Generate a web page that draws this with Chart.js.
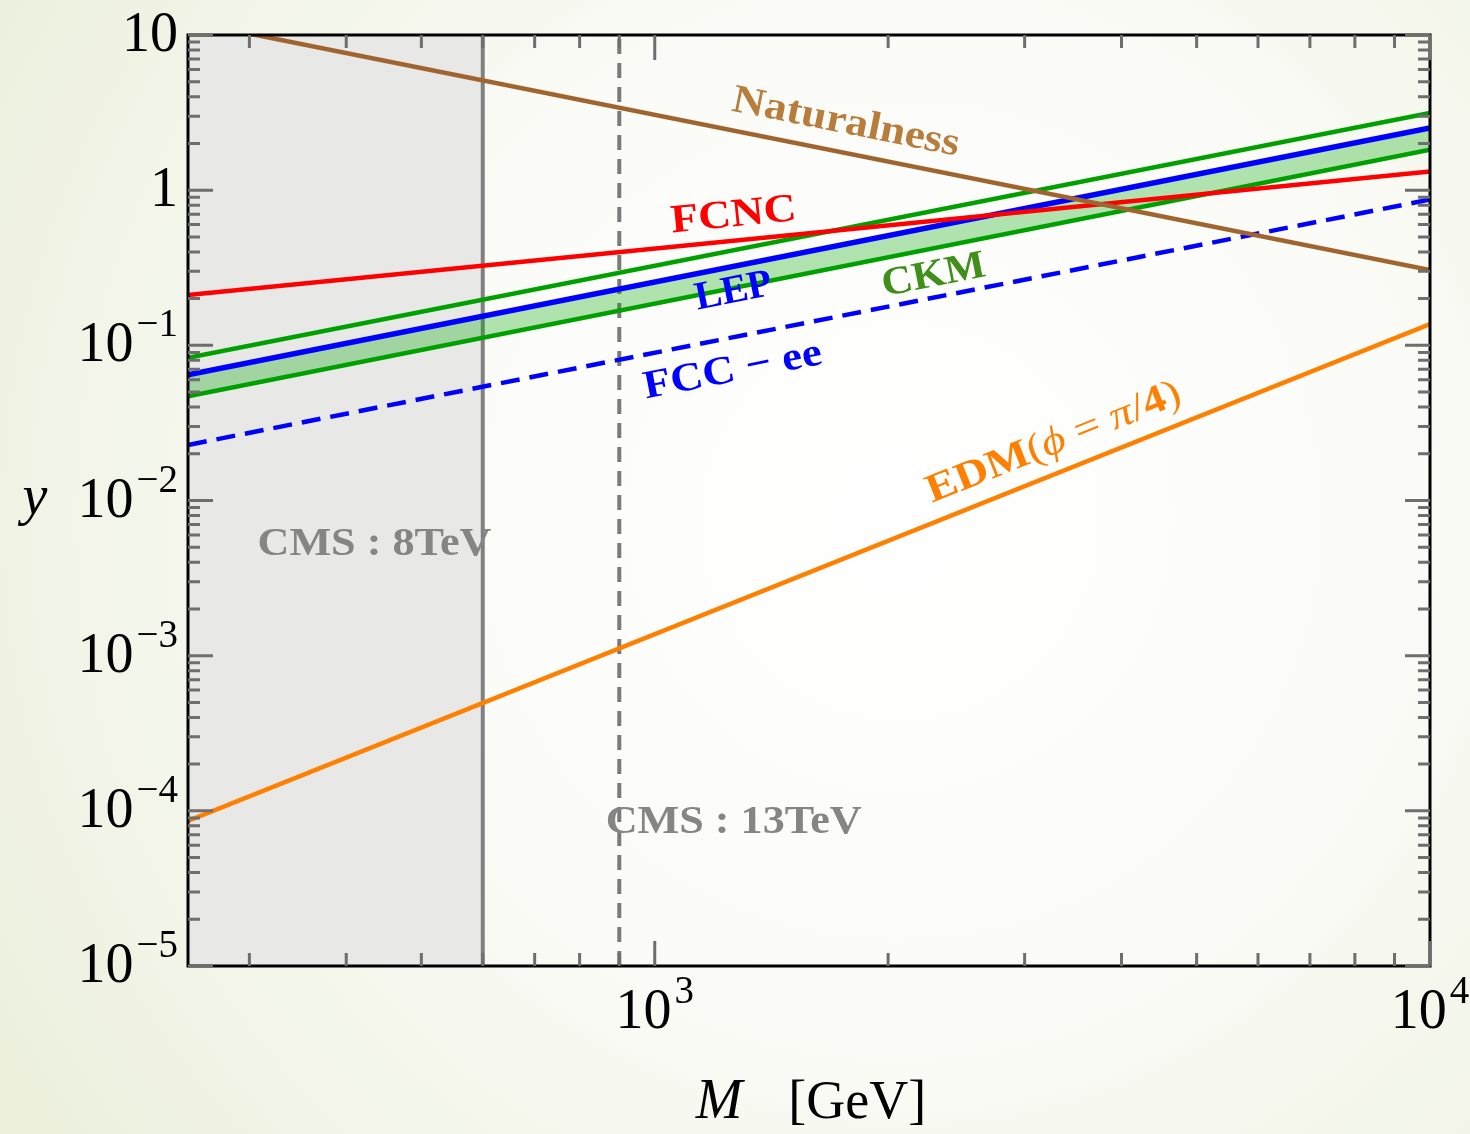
<!DOCTYPE html>
<html>
<head>
<meta charset="utf-8">
<script src="https://cdn.jsdelivr.net/npm/chart.js@4.4.1/dist/chart.umd.min.js"></script>
<style>
  html, body { margin: 0; padding: 0; background: #fbfcf7; }
  canvas { display: block; }
</style>
</head>
<body>
<canvas id="boundsChart" width="1470" height="1134"></canvas>
<script>
// each bound is a power law in M, so two end points give the straight log-log line
const massGeV = [250, 10000];
const naturalness = [12.24, 0.306];
const fcnc = [0.211, 1.32];
const lep = [0.0645, 2.52];
const ckmUpper = [0.083, 3.14];
const ckmLower = [0.047, 1.82];
const fccEE = [0.0228, 0.87];
const edm = [8.6e-5, 0.137];

// CMS lower limits on M (GeV)
const cms8Limit = 600;
const cms13Limit = 900;

const yRange = [1e-5, 10];
const yDecades = [10, 1, 0.1, 0.01, 1e-3, 1e-4, 1e-5];
const yTickLabels = [['10', ''], ['1', ''], ['10', '\u22121'], ['10', '\u22122'], ['10', '\u22123'], ['10', '\u22124'], ['10', '\u22125']];
const xDecades = [1000, 10000];
const xTickLabels = [['10', '3'], ['10', '4']];

const SERIF = '"Liberation Serif", "DejaVu Serif", serif';

const pts = ys => massGeV.map((m, i) => ({ x: m, y: ys[i] }));

function line(label, data, color, width, extra) {
  return Object.assign({
    label, data, borderColor: color, borderWidth: width,
    pointRadius: 0, tension: 0, fill: false, clip: 0
  }, extra || {});
}

const datasets = [
  line('Naturalness', pts(naturalness), '#a0642f', 4.5),
  line('FCNC', pts(fcnc), '#ff0000', 4.5),
  line('LEP', pts(lep), '#0000ff', 5.5),
  line('CKM upper', pts(ckmUpper), '#00a000', 4.5),
  line('CKM lower', pts(ckmLower), '#00a000', 4.5, { fill: 2, backgroundColor: 'rgba(0,165,0,0.3)' }),
  line('FCC-ee', pts(fccEE), '#0000ff', 4.5, { borderDash: [19, 10] }),
  line('EDM', pts(edm), '#ff8000', 4.5),
  line('CMS 8TeV', [{ x: cms8Limit, y: yRange[0] }, { x: cms8Limit, y: yRange[1] }], '#808080', 4),
  line('CMS 13TeV', [{ x: cms13Limit, y: yRange[0] }, { x: cms13Limit, y: yRange[1] }], '#7a7a7a', 4, { borderDash: [15, 9] }),
  line('CMS 8TeV excluded', [{ x: massGeV[0], y: yRange[1] }, { x: cms8Limit, y: yRange[1] }], 'rgba(0,0,0,0)', 0,
    { fill: 'start', backgroundColor: '#e8e8e7' })
];

// rotated labels sitting along the curves
const curveLabels = [
  { text: 'Naturalness', at: [1764, 2.71], along: naturalness, color: '#b87d3c', width: 231 },
  { text: 'FCNC', at: [1264, 0.682], along: fcnc, color: '#ff0000', width: 126 },
  { text: 'LEP', at: [1264, 0.221], along: lep, color: '#0000ff', width: 78 },
  { text: 'CKM', at: [2291, 0.28], along: ckmLower, color: '#3f8f1a', width: 105 },
  { text: 'FCC \u2212 ee', at: [1261, 0.0684], along: fccEE, color: '#0000ff', width: 181 },
  { text: 'CMS : 8TeV', at: [435, 0.00518], along: null, color: '#858585', width: 234 },
  { text: 'CMS : 13TeV', at: [1264, 8.37e-5], along: null, color: '#858585', width: 256 }
];
const edmLabel = {
  parts: [['EDM', 'bold'], ['(', ''], ['\u03d5', 'italic'], [' = ', ''], ['\u03c0', 'italic'], ['/', ''], ['4', 'bold'], [')', '']],
  at: [3273, 0.0235], along: edm, color: '#ff8000', width: 271
};

function logTicks(min, max) {
  const out = [];
  for (let e = Math.floor(Math.log10(min)); e <= Math.ceil(Math.log10(max)); e++) {
    for (let k = 1; k <= 9; k++) {
      const v = k * Math.pow(10, e);
      if (v >= min * 0.999999 && v <= max * 1.000001) out.push({ v, major: k === 1 });
    }
  }
  return out;
}

const backgroundPlugin = {
  id: 'pageBackground',
  beforeDraw(chart) {
    const { ctx, width, height } = chart;
    const g = ctx.createRadialGradient(900, 520, 0, 900, 520, 1050);
    g.addColorStop(0, '#ffffff');
    g.addColorStop(0.45, '#fbfcf8');
    g.addColorStop(1, '#ecf0dd');
    ctx.save();
    ctx.fillStyle = g;
    ctx.fillRect(0, 0, width, height);
    ctx.restore();
  }
};

function angleAlong(x, y, ys) {
  if (!ys) return 0;
  const x0 = x.getPixelForValue(massGeV[0]), x1 = x.getPixelForValue(massGeV[1]);
  const y0 = y.getPixelForValue(ys[0]), y1 = y.getPixelForValue(ys[1]);
  return Math.atan2(y1 - y0, x1 - x0);
}

function drawSup(ctx, base, sup, xPos, baseline, align) {
  const mainFont = '56px ' + SERIF, supFont = '39px ' + SERIF;
  ctx.font = mainFont;
  const wb = ctx.measureText(base).width;
  ctx.font = supFont;
  const ws = sup ? ctx.measureText(sup).width + 3 : 0;
  const total = wb + ws;
  let left = align === 'right' ? xPos - total : xPos - total / 2;
  ctx.textAlign = 'left';
  ctx.textBaseline = 'alphabetic';
  ctx.font = mainFont;
  ctx.fillText(base, left, baseline);
  if (sup) {
    ctx.font = supFont;
    ctx.fillText(sup, left + wb + 3, baseline - 25);
  }
}

const annotatePlugin = {
  id: 'frameAndText',
  afterDatasetsDraw(chart) {
    const { ctx, chartArea: a, scales: { x, y } } = chart;
    ctx.save();

    // plot frame
    ctx.strokeStyle = '#000000';
    ctx.lineWidth = 3;
    ctx.strokeRect(a.left, a.top, a.right - a.left, a.bottom - a.top);

    // inward ticks on all four sides
    ctx.strokeStyle = '#6e6e6e';
    ctx.lineWidth = 3;
    ctx.beginPath();
    for (const t of logTicks(y.min, y.max)) {
      const py = y.getPixelForValue(t.v);
      const len = t.major ? 25 : 12;
      ctx.moveTo(a.left, py); ctx.lineTo(a.left + len, py);
      ctx.moveTo(a.right, py); ctx.lineTo(a.right - len, py);
    }
    for (const t of logTicks(x.min, x.max)) {
      const px = x.getPixelForValue(t.v);
      const len = t.major ? 25 : 13;
      ctx.moveTo(px, a.bottom); ctx.lineTo(px, a.bottom - len);
      ctx.moveTo(px, a.top); ctx.lineTo(px, a.top + len);
    }
    ctx.stroke();

    // tick labels
    ctx.fillStyle = '#000000';
    yDecades.forEach((v, i) => {
      const py = y.getPixelForValue(v);
      drawSup(ctx, yTickLabels[i][0], yTickLabels[i][1], 178, py + 16, 'right');
    });
    xDecades.forEach((v, i) => {
      const px = x.getPixelForValue(v);
      drawSup(ctx, xTickLabels[i][0], xTickLabels[i][1], px, a.bottom + 62, 'center');
    });

    // axis titles
    ctx.textBaseline = 'alphabetic';
    ctx.textAlign = 'left';
    ctx.font = 'italic 56px ' + SERIF;
    const wM = ctx.measureText('M').width;
    ctx.font = '54px ' + SERIF;
    const wG = ctx.measureText('[GeV]').width;
    const gap = 46;
    let tx = (a.left + a.right) / 2 - (wM + gap + wG) / 2 + 2;
    ctx.font = 'italic 56px ' + SERIF;
    ctx.fillText('M', tx, 1118);
    ctx.font = '54px ' + SERIF;
    ctx.fillText('[GeV]', tx + wM + gap, 1118);
    ctx.font = 'italic 56px ' + SERIF;
    ctx.textAlign = 'center';
    ctx.fillText('y', 35, 514);

    // curve labels
    ctx.textBaseline = 'middle';
    for (const lab of curveLabels) {
      const px = x.getPixelForValue(lab.at[0]), py = y.getPixelForValue(lab.at[1]);
      ctx.save();
      ctx.translate(px, py);
      ctx.rotate(angleAlong(x, y, lab.along));
      ctx.font = 'bold 40px ' + SERIF;
      const w = ctx.measureText(lab.text).width;
      ctx.scale(lab.width / w, 1);
      ctx.fillStyle = lab.color;
      ctx.textAlign = 'center';
      ctx.fillText(lab.text, 0, 0);
      ctx.restore();
    }

    // EDM label mixes bold text and math symbols
    {
      const px = x.getPixelForValue(edmLabel.at[0]), py = y.getPixelForValue(edmLabel.at[1]);
      ctx.save();
      ctx.translate(px, py);
      ctx.rotate(angleAlong(x, y, edmLabel.along));
      const fonts = edmLabel.parts.map(p => (p[1] ? p[1] + ' ' : '') + '40px ' + SERIF);
      const widths = edmLabel.parts.map((p, i) => { ctx.font = fonts[i]; return ctx.measureText(p[0]).width; });
      const total = widths.reduce((s, w) => s + w, 0);
      ctx.scale(edmLabel.width / total, 1);
      ctx.fillStyle = edmLabel.color;
      ctx.textAlign = 'left';
      let cx = -total / 2;
      edmLabel.parts.forEach((p, i) => {
        ctx.font = fonts[i];
        ctx.fillText(p[0], cx, 0);
        cx += widths[i];
      });
      ctx.restore();
    }

    ctx.restore();
  }
};

new Chart(document.getElementById('boundsChart').getContext('2d'), {
  type: 'line',
  data: { datasets },
  options: {
    responsive: false,
    animation: false,
    devicePixelRatio: 1,
    events: [],
    layout: { padding: { left: 188, top: 35, right: 40, bottom: 168 } },
    scales: {
      x: { type: 'logarithmic', min: massGeV[0], max: massGeV[1], display: false },
      y: { type: 'logarithmic', min: yRange[0], max: yRange[1], display: false }
    },
    plugins: {
      legend: { display: false },
      tooltip: { enabled: false }
    }
  },
  plugins: [backgroundPlugin, annotatePlugin]
});
</script>
</body>
</html>
